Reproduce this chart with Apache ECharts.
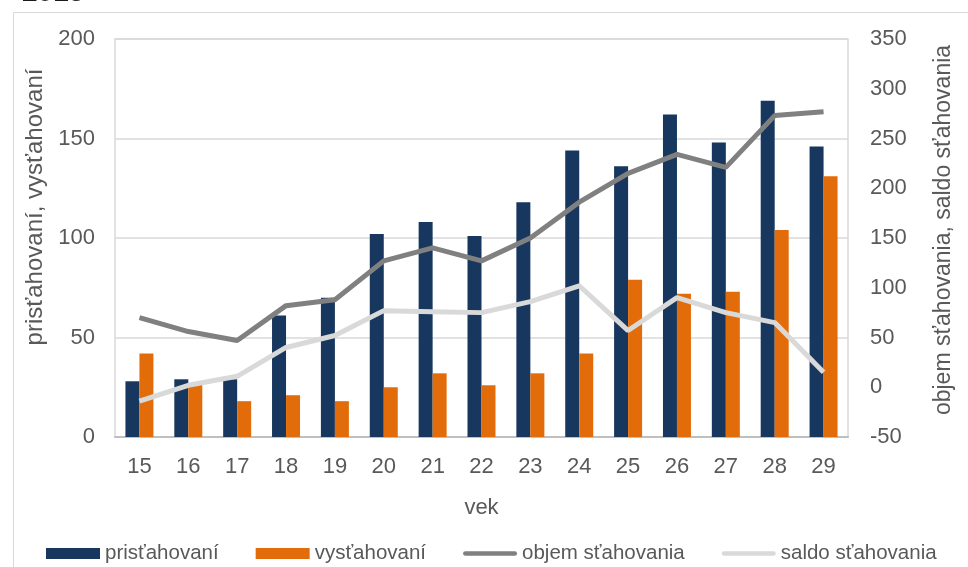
<!DOCTYPE html>
<html>
<head>
<meta charset="utf-8">
<title>2015</title>
<script src="https://cdn.jsdelivr.net/npm/echarts@6/dist/echarts.min.js"></script>
<style>
  html, body { margin: 0; padding: 0; background: #fff; }
  #main { width: 968px; height: 567px; }
</style>
</head>
<body>
<div id="main"></div>
<script>
// vek
var xdata = ['15', '16', '17', '18', '19', '20', '21', '22', '23', '24', '25', '26', '27', '28', '29'];
// prisťahovaní / vysťahovaní (lavá os)
var prist = [28, 29, 29, 61, 70, 102, 108, 101, 118, 144, 136, 162, 148, 169, 146];
var vyst = [42, 27, 18, 21, 18, 25, 32, 26, 32, 42, 79, 72, 73, 104, 131];
// objem a saldo sťahovania (pravá os)
var objem = [70, 56, 47, 82, 88, 127, 140, 127, 150, 186, 215, 234, 221, 273, 277];
var saldo = [-14, 2, 11, 40, 52, 77, 76, 75, 86, 102, 57, 90, 75, 65, 15];

var font = 'Liberation Sans, Arial, sans-serif';
var gray = '#595959';
// ikona čiary v legende
var lineIcon = 'path://M2.5,0 L55.5,0 A2.5,2.5 0 0 1 55.5,5 L2.5,5 A2.5,2.5 0 0 1 2.5,0 Z';

var myChart = echarts.init(document.getElementById('main'));
myChart.setOption({
    animation: false,
    title: {
        text: '2015',
        left: 17,
        top: -25.5,
        textStyle: { fontFamily: font, fontSize: 28, fontWeight: 'bold', color: '#1a1a1a' }
    },
    graphic: [{
        type: 'rect',
        shape: { x: 13.5, y: 12.5, width: 1200, height: 1000 },
        style: { fill: 'none', stroke: '#d9d9d9', lineWidth: 1 },
        silent: true
    }],
    legend: {
        left: 41,
        top: 538,
        itemWidth: 54,
        itemHeight: 11,
        itemGap: 37,
        textStyle: { fontFamily: font, fontSize: 20.5, color: gray },
        data: [
            { name: 'prisťahovaní', icon: 'rect' },
            { name: 'vysťahovaní', icon: 'rect' },
            { name: 'objem sťahovania', icon: lineIcon },
            { name: 'saldo sťahovania', icon: lineIcon }
        ]
    },
    grid: {
        left: 115,
        right: 120,
        top: 39,
        bottom: 130,
        show: true,
        borderColor: '#d9d9d9',
        borderWidth: 1.5
    },
    xAxis: {
        type: 'category',
        data: xdata,
        name: 'vek',
        nameLocation: 'middle',
        nameGap: 60,
        nameTextStyle: { fontFamily: font, fontSize: 22, color: gray },
        axisLine: { lineStyle: { color: '#bfbfbf', width: 2 } },
        axisTick: { show: false },
        axisLabel: { margin: 19, fontFamily: font, fontSize: 22, color: gray }
    },
    yAxis: [
        {
            type: 'value',
            min: 0,
            max: 200,
            interval: 50,
            name: 'prisťahovaní, vysťahovaní',
            nameLocation: 'middle',
            nameGap: 55,
            nameTextStyle: { fontFamily: font, fontSize: 24, color: gray, padding: [0, 0, 0, 62] },
            axisLine: { show: false },
            axisTick: { show: false },
            axisLabel: { margin: 20, fontFamily: font, fontSize: 22, color: gray },
            splitLine: { lineStyle: { color: '#d9d9d9', width: 1.5 } }
        },
        {
            type: 'value',
            min: -50,
            max: 350,
            interval: 50,
            name: 'objem sťahovania, saldo sťahovania',
            nameLocation: 'middle',
            nameGap: 84,
            nameTextStyle: { fontFamily: font, fontSize: 23, color: gray, padding: [0, 0, 0, 16] },
            axisLine: { show: false },
            axisTick: { show: false },
            axisLabel: { margin: 22, fontFamily: font, fontSize: 22, color: gray },
            splitLine: { show: false }
        }
    ],
    series: [
        {
            name: 'prisťahovaní',
            type: 'bar',
            data: prist,
            barWidth: 14,
            barGap: '0%',
            itemStyle: { color: '#17375e' }
        },
        {
            name: 'vysťahovaní',
            type: 'bar',
            data: vyst,
            barWidth: 14,
            barGap: '0%',
            itemStyle: { color: '#e36c0a' }
        },
        {
            name: 'objem sťahovania',
            type: 'line',
            yAxisIndex: 1,
            data: objem,
            symbol: 'none',
            lineStyle: { color: '#808080', width: 5 },
            itemStyle: { color: '#808080' }
        },
        {
            name: 'saldo sťahovania',
            type: 'line',
            yAxisIndex: 1,
            data: saldo,
            symbol: 'none',
            lineStyle: { color: '#d9d9d9', width: 5 },
            itemStyle: { color: '#d9d9d9' }
        }
    ]
});
</script>
</body>
</html>
